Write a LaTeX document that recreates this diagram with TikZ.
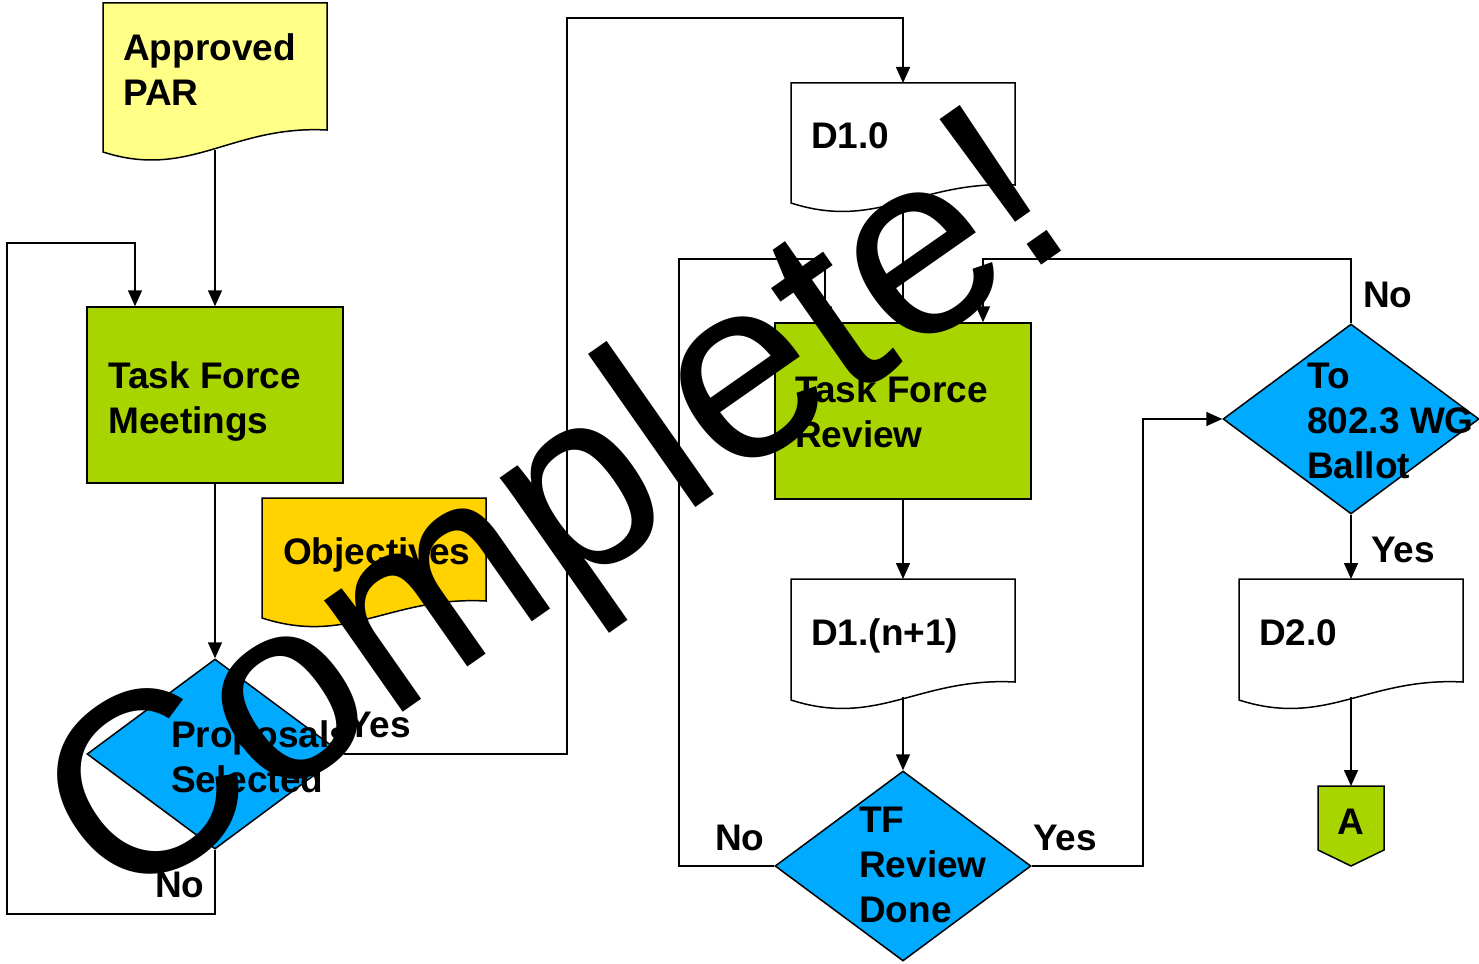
\documentclass[tikz,border=0pt]{standalone}
\usepackage{fontspec}
\setmainfont{Liberation Sans}
\usetikzlibrary{arrows.meta,shapes.geometric}
\definecolor{parY}{RGB}{255,255,136}
\definecolor{tfG}{RGB}{168,212,0}
\definecolor{objO}{RGB}{255,210,0}
\definecolor{decB}{RGB}{0,170,255}
\newcommand\twoln[2]{\vtop{\baselineskip=45pt\hbox{#1}\hbox{#2}}}
\newcommand\threeln[3]{\vtop{\baselineskip=45pt\hbox{#1}\hbox{#2}\hbox{#3}}}
\newcommand\docpath[5]{%
  \draw[outl, fill=#5] (#1,#2) -- (#1+224,#2) -- (#1+224,#4)
    .. controls (#1+128,#4-5) and (#1+87,#3+28) .. (#1,#3) -- cycle;}
\begin{document}
\begin{tikzpicture}[x=1pt,y=-1pt,
  outl/.style={draw=black, line width=1.5pt},
  conn/.style={draw=black, line width=1.5pt, -{Triangle[width=14pt,length=16pt]}},
  lbl/.style={anchor=base west, inner sep=0pt, font=\bfseries\fontsize{37}{45}\selectfont},
  procbox/.style={outl, fill=tfG, rectangle, minimum width=256pt, minimum height=176pt, inner sep=0pt},
  decis/.style={outl, fill=decB, diamond, minimum width=256pt, minimum height=190pt, inner sep=0pt},
  bigtext/.style={anchor=base west, inner sep=0pt, rotate=35, font=\mdseries\fontsize{258}{258}\selectfont}
]
\useasboundingbox (0,0) rectangle (1479,963);

% document shapes
\docpath{103}{3}{152}{130}{parY}
\docpath{262}{498}{618}{601}{objO}
\docpath{791}{83}{203}{185}{white}
\docpath{791}{579}{700}{682}{white}
\docpath{1239}{579}{700}{682}{white}
\coordinate (parb) at (215,150);
\coordinate (d1t) at (903,83);
\coordinate (d1b) at (903,200);
\coordinate (dnt) at (903,579);
\coordinate (dnb) at (903,697);
\coordinate (d2t) at (1351,579);
\coordinate (d2b) at (1351,697);

% process boxes and decisions
\node[procbox] (tfm) at (215,395) {};
\node[procbox] (tfr) at (903,411) {};
\node[decis] (prop) at (215,754) {};
\node[decis] (tfd) at (903,866) {};
\node[decis] (ballot) at (1351,419) {};

% off-page connector A
\draw[outl, fill=tfG] (1318,786) -- (1384,786) -- (1384,850) -- (1351,866) -- (1318,850) -- cycle;
\coordinate (at) at (1351,786);

% connectors
\draw[conn] (parb) -- (tfm.north);
\draw[conn] (tfm.south) -- (prop.north);
\draw[conn] (prop.south) -- (215,914) -- (7,914) -- (7,243) -- (135,243) -- (135,243 |- tfm.north);
\draw[conn] (prop.east) -- (567,754) -- (567,18) -- (903,18) -- (d1t);
\draw[conn] (d1b) -- (tfr.north);
\draw[conn] (tfr.south) -- (dnt);
\draw[conn] (dnb) -- (tfd.north);
\draw[conn] (tfd.west) -- (679,866) -- (679,259) -- (825,259) -- (825,259 |- tfr.north);
\draw[conn] (tfd.east) -- (1143,866) -- (1143,419) -- (ballot.west);
\draw[conn] (ballot.north) -- (1351,259) -- (983,259) -- (983,259 |- tfr.north);
\draw[conn] (ballot.south) -- (d2t);
\draw[conn] (d2b) -- (at);

% texts
\node[lbl] (tpar) at (123,61) {\twoln{Approved}{PAR}};
\node[lbl] (ttfm) at (108,388) {\twoln{Task Force}{Meetings}};
\node[lbl] (tobj) at (283,564) {Objectives};
\node[lbl] (tprop) at (171,747) {\twoln{Proposals}{Selected}};
\node[lbl] (tyes1) at (347,737) {Yes};
\node[lbl] (tno1) at (155,897) {No};
\node[lbl] (td1) at (811,148) {D1.0};
\node[lbl] (ttfr) at (795,402) {\twoln{Task Force}{Review}};
\node[lbl] (tdn) at (811,645) {D1.(n+1)};
\node[lbl] (ttfd) at (859,832) {\threeln{TF}{Review}{Done}};
\node[lbl] (tno2) at (715,850) {No};
\node[lbl] (tyes2) at (1033,850) {Yes};
\node[lbl] (tbal) at (1307,388) {\threeln{To}{802.3 WG}{Ballot}};
\node[lbl] (tno3) at (1363,307) {No};
\node[lbl] (tyes3) at (1371,562) {Yes};
\node[lbl] (td2) at (1259,645) {D2.0};
\node[lbl, anchor=base] (ta) at (1351,834) {A};

% overlay
\node[bigtext] (complete) at (118,912) {Complete!};
\end{tikzpicture}
\end{document}
